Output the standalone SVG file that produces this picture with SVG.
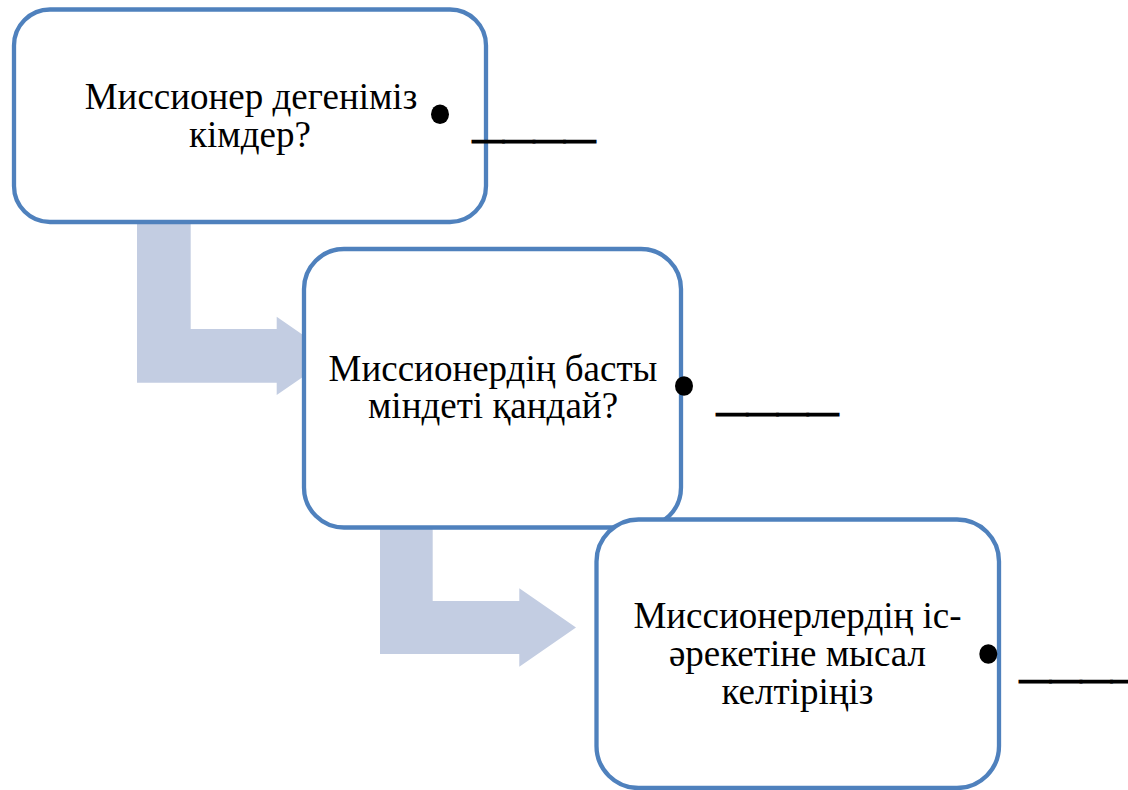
<svg xmlns="http://www.w3.org/2000/svg" width="1128" height="790" viewBox="0 0 1128 790">
<style>
.box{fill:#FFFFFF;stroke:#4F81BD;stroke-width:4.3}
.arrow{fill:#C3CDE2;stroke:none}
.t{font-family:"Liberation Serif","Times New Roman",serif;font-size:37px;fill:#000000;text-anchor:middle}
.u{font-family:"Liberation Serif","Times New Roman",serif;font-size:36px;font-weight:bold;fill:#000000;stroke:#000000;stroke-width:1.2}
.dot{fill:#000000}
</style>
<rect width="1128" height="790" fill="#FFFFFF"/>
<g id="connectors">
<path class="arrow" d="M137,222 L190.7,222 L190.7,329 L276.7,329 L276.7,316.7 L333.4,356 L276.7,395 L276.7,382.7 L137,382.7 Z"/>
<path class="arrow" d="M380,527 L432.7,527 L432.7,601 L519.3,601 L519.3,588.3 L576,627.5 L519.3,666.7 L519.3,654 L380,654 Z"/>
</g>
<g id="node1">
<rect class="box" x="14" y="9.5" width="472" height="212.5" rx="36" ry="36"/>
<text class="t" x="251" y="109">Миссионер дегеніміз</text>
<text class="t" x="250" y="147">кімдер?</text>
<ellipse class="dot" cx="440" cy="114.3" rx="9" ry="9.8"/>
<text class="u" x="473" y="138" textLength="122" lengthAdjust="spacingAndGlyphs">____</text>
</g>
<g id="node2">
<rect class="box" x="304" y="249" width="377" height="278.5" rx="40" ry="40"/>
<text class="t" x="493" y="380.7">Миссионердің басты</text>
<text class="t" x="493" y="417.7">міндеті қандай?</text>
<ellipse class="dot" cx="684" cy="386" rx="9" ry="9.8"/>
<text class="u" x="717" y="410.5" textLength="121" lengthAdjust="spacingAndGlyphs">____</text>
</g>
<g id="node3">
<rect class="box" x="596.5" y="519.5" width="402.5" height="268.5" rx="42" ry="42"/>
<text class="t" x="797.5" y="628.3">Миссионерлердің іс-</text>
<text class="t" x="797.5" y="666">әрекетіне мысал</text>
<text class="t" x="797.5" y="703.5">келтіріңіз</text>
<ellipse class="dot" cx="988.3" cy="654" rx="9" ry="9.8"/>
<text class="u" x="1020" y="677.5" textLength="122" lengthAdjust="spacingAndGlyphs">____</text>
</g>
</svg>
